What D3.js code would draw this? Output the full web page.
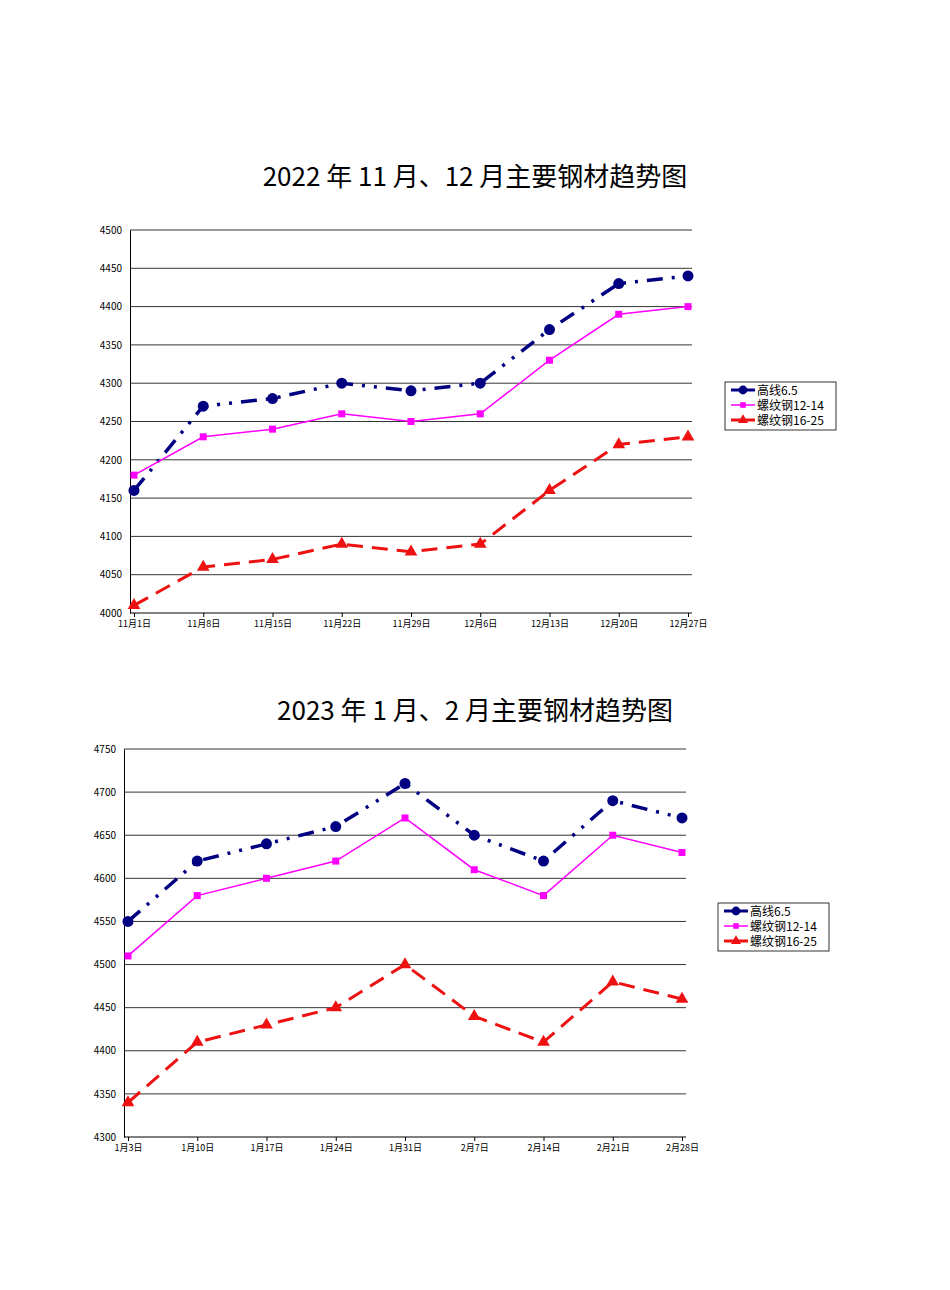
<!DOCTYPE html>
<html><head><meta charset="UTF-8">
<script src="https://cdn.jsdelivr.net/npm/d3@7"></script>
<style>
body{margin:0;background:#fff}
text{font-family:"Noto Sans CJK SC",sans-serif}
</style></head>
<body>
<script>
var series = ['高线6.5','螺纹钢12-14','螺纹钢16-25']
var cats1 = ['11月1日','11月8日','11月15日','11月22日','11月29日','12月6日','12月13日','12月20日','12月27日']
var gx1 = [4160,4270,4280,4300,4290,4300,4370,4430,4440]
var lw1a = [4180,4230,4240,4260,4250,4260,4330,4390,4400]
var lw1b = [4010,4060,4070,4090,4080,4090,4160,4220,4230]
var ticks1 = [4000,4050,4100,4150,4200,4250,4300,4350,4400,4450,4500]

var cats2 = ['1月3日','1月10日','1月17日','1月24日','1月31日','2月7日','2月14日','2月21日','2月28日']
var gx2 = [4550,4620,4640,4660,4710,4650,4620,4690,4670]
var lw2a = [4510,4580,4600,4620,4670,4610,4580,4650,4630]
var lw2b = [4340,4410,4430,4450,4500,4440,4410,4480,4460]
var ticks2 = [4300,4350,4400,4450,4500,4550,4600,4650,4700,4750]

var svg = d3.select('body').append('svg').attr('width',950).attr('height',1290)

var styles = [
  {color:'#000080', dash:'16,9,3,9,3,9', w:3.5, marker:'circle'},
  {color:'#ff00ff', dash:null, w:1.5, marker:'square'},
  {color:'#ee1111', dash:'16,9', w:3, marker:'triangle'}
]

function chart(o){
  var g = svg.append('g')
  g.append('text').attr('x',o.tx).attr('y',o.ty).attr('text-anchor','middle')
    .attr('font-size',26).attr('font-family','"DejaVu Serif","Noto Sans CJK SC",serif').text(o.title)
  var y = d3.scaleLinear().domain([o.ticks[0],o.ticks[o.ticks.length-1]]).range([o.bottom,o.top])
  var x = d3.scalePoint().domain(o.cats).range([o.left+4,o.right-4])
  o.ticks.slice(1).forEach(function(t){
    g.append('line').attr('x1',o.left).attr('x2',o.right).attr('y1',y(t)).attr('y2',y(t)).attr('stroke','#000').attr('stroke-width',0.8)
  })
  var ya = g.append('g').attr('transform','translate('+o.left+',0)')
    .call(d3.axisLeft(y).tickValues(o.ticks).tickFormat(d3.format('d')).tickSize(0).tickPadding(8))
  ya.select('.domain').attr('stroke','#000')
  ya.selectAll('text').attr('font-size',10).attr('font-family','"DejaVu Sans",sans-serif')
  var xa = g.append('g').attr('transform','translate(0,'+o.bottom+')')
    .call(d3.axisBottom(x).tickSize(4).tickPadding(4))
  xa.select('.domain').attr('d','M'+o.left+',0H'+o.right).attr('stroke','#000')
  xa.selectAll('text').attr('font-size',9)
  var line = d3.line().x(function(d,i){return x(o.cats[i])}).y(function(d){return y(d)})
  o.data.forEach(function(arr,k){
    var s = styles[k]
    g.append('path').attr('d',line(arr)).attr('fill','none').attr('stroke',s.color)
      .attr('stroke-width',s.w).attr('stroke-dasharray',s.dash)
    arr.forEach(function(v,i){ marker(g,s,x(o.cats[i]),y(v),1) })
  })
  var lg = g.append('g').attr('transform','translate('+o.lx+','+o.ly+')')
  lg.append('rect').attr('width',111).attr('height',48).attr('fill','#fff').attr('stroke','#000').attr('stroke-width',0.8)
  series.forEach(function(n,k){
    var s = styles[k], yy = 8+k*15
    lg.append('line').attr('x1',6).attr('x2',30).attr('y1',yy).attr('y2',yy).attr('stroke',s.color).attr('stroke-width',k==1?1.5:3)
    marker(lg,s,18,yy,0.8)
    lg.append('text').attr('x',32).attr('y',yy+4.5).attr('font-size',12).text(n)
  })
}
function marker(g,s,cx,cy,sc){
  if(s.marker=='circle') g.append('circle').attr('cx',cx).attr('cy',cy).attr('r',5.5*sc).attr('fill',s.color)
  else if(s.marker=='square') g.append('rect').attr('x',cx-3.5*sc).attr('y',cy-3.5*sc).attr('width',7*sc).attr('height',7*sc).attr('fill',s.color)
  else g.append('path').attr('d',d3.symbol(d3.symbolTriangle,70*sc*sc)()).attr('transform','translate('+cx+','+cy+')').attr('fill',s.color)
}

chart({title:'2022 年 11 月、12 月主要钢材趋势图',tx:475,ty:186,cats:cats1,ticks:ticks1,
  data:[gx1,lw1a,lw1b],left:130,right:692,top:230,bottom:613,lx:725,ly:382})
chart({title:'2023 年 1 月、2 月主要钢材趋势图',tx:475,ty:720,cats:cats2,ticks:ticks2,
  data:[gx2,lw2a,lw2b],left:124,right:686,top:749,bottom:1137,lx:718,ly:903})
</script>
</body></html>
